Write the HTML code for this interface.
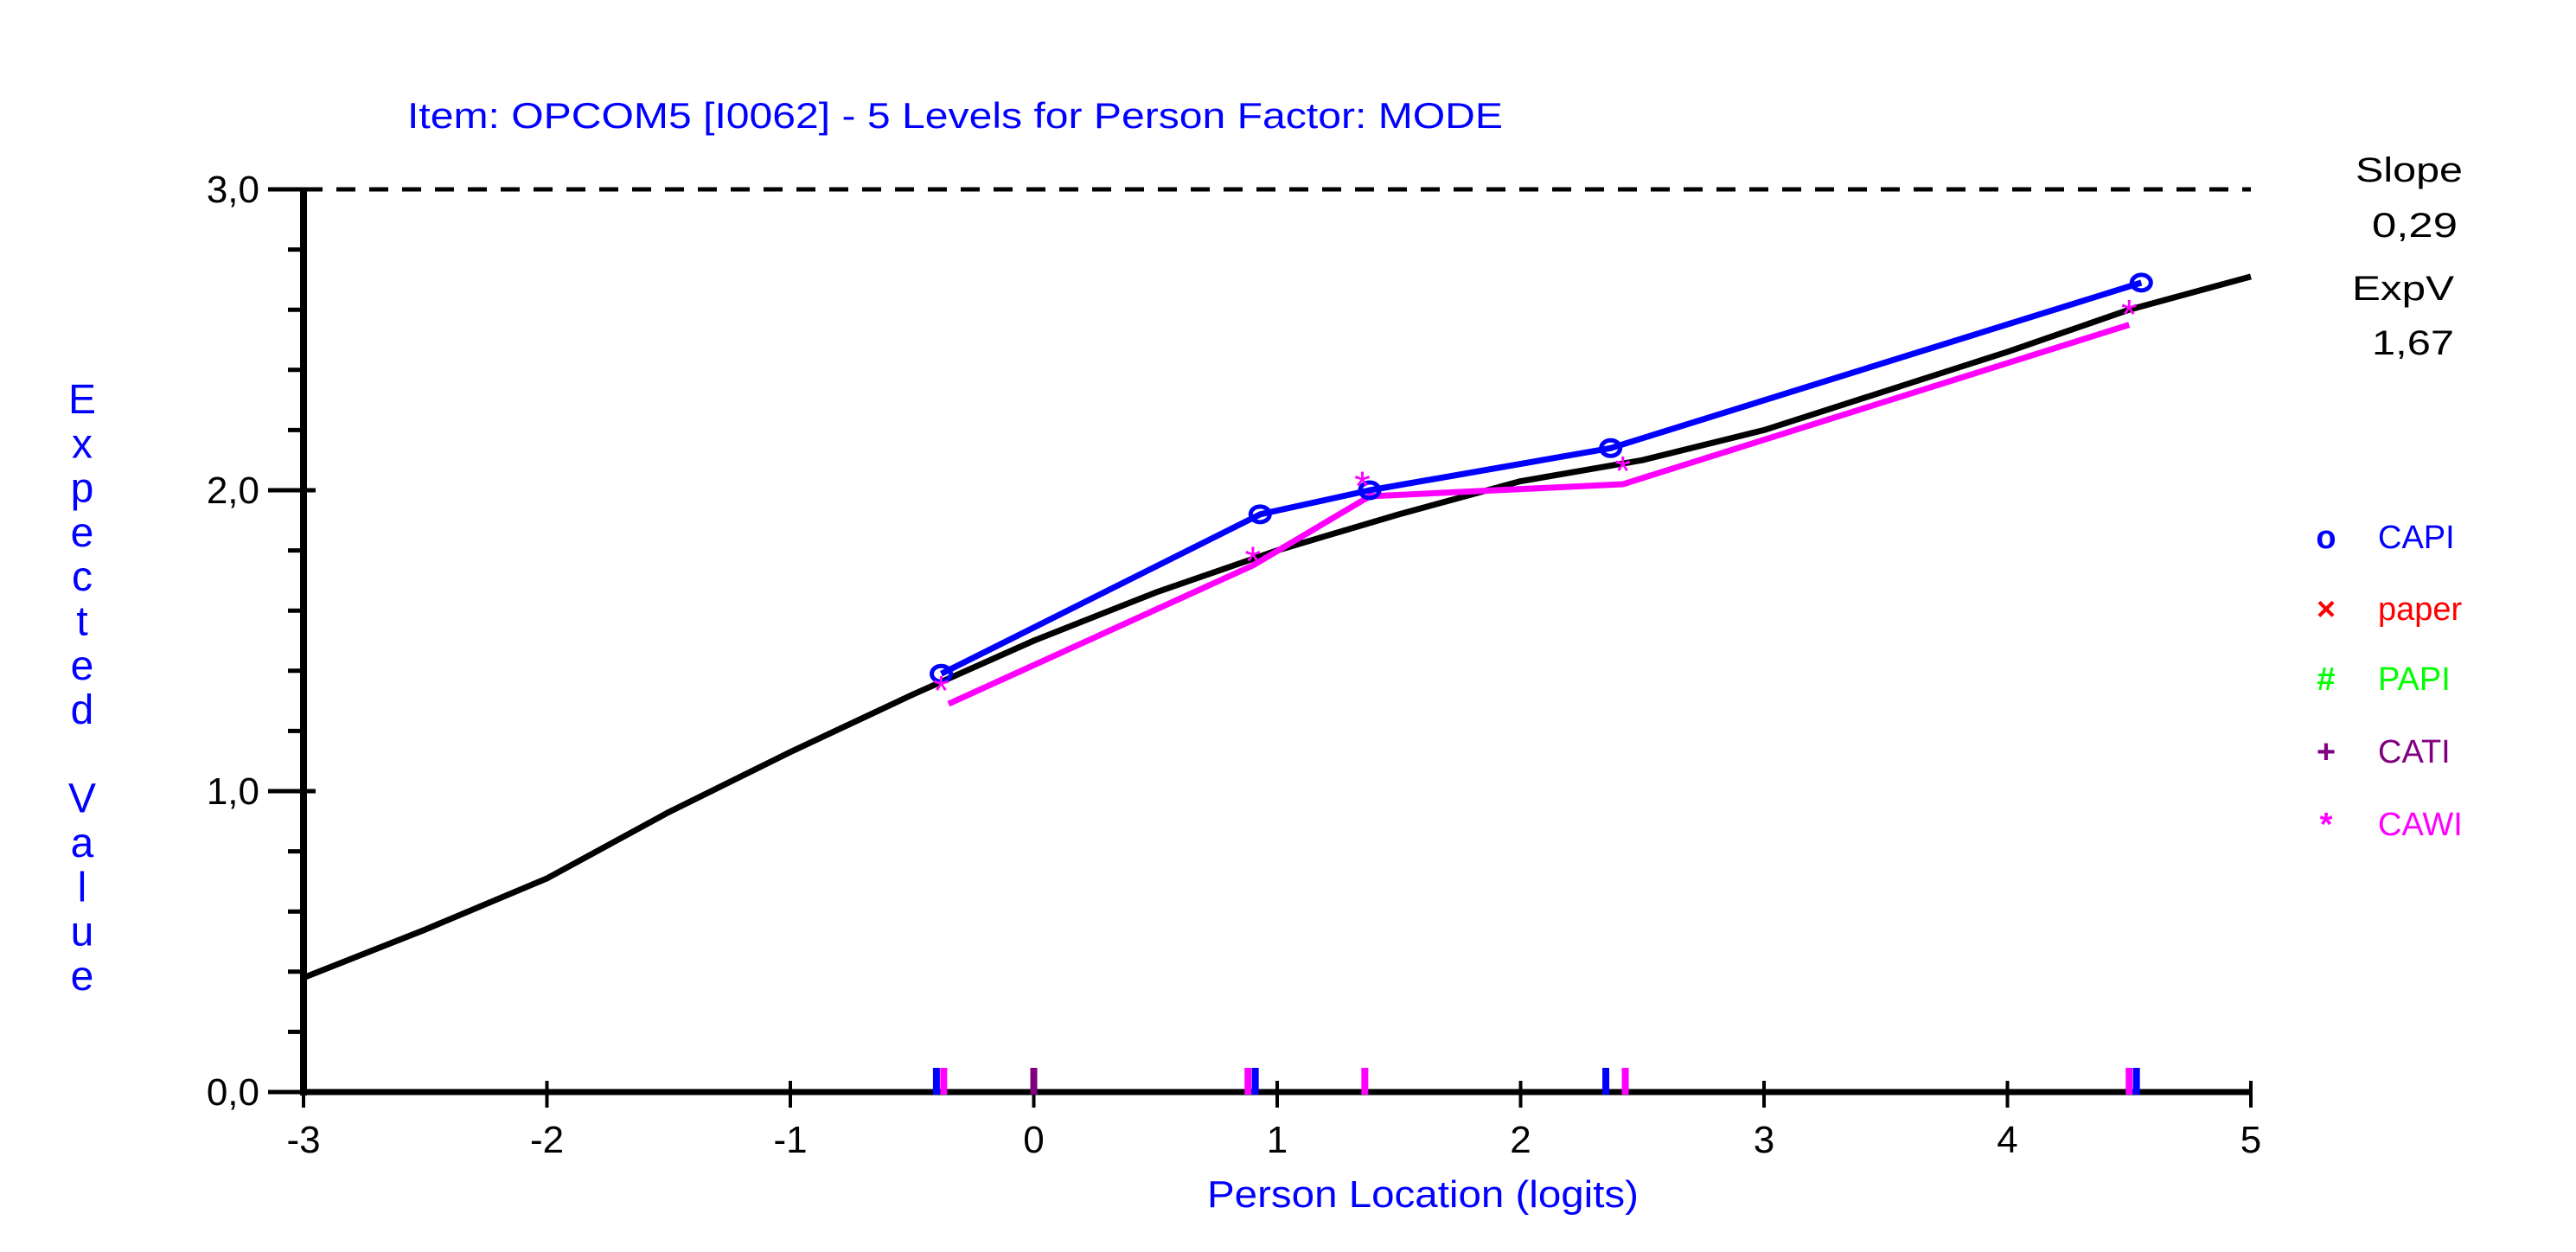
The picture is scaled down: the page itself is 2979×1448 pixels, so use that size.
<!DOCTYPE html>
<html><head><meta charset="utf-8"><style>
html,body{margin:0;padding:0;background:#fff;}
svg{display:block;}
text{font-family:"Liberation Sans",sans-serif;}
</style></head><body>
<svg id="chart" width="2979" height="1448" viewBox="0 0 2979 1448" xmlns="http://www.w3.org/2000/svg">
<text x="471" y="148" font-size="42" fill="#0000ff" textLength="1267" lengthAdjust="spacingAndGlyphs">Item: OPCOM5 [I0062] - 5 Levels for Person Factor: MODE</text>
<g id="axes"></g>
<g id="series"></g>
<g id="rug"></g>
<text x="1396" y="1396" font-size="44" fill="#0000ff" textLength="499" lengthAdjust="spacingAndGlyphs">Person Location (logits)</text>
<g id="ytitle" fill="#0000ff" font-size="48" text-anchor="middle"></g>
<g font-size="40" fill="#000">
<text x="2724" y="210" textLength="124" lengthAdjust="spacingAndGlyphs">Slope</text>
<text x="2743" y="274" textLength="99" lengthAdjust="spacingAndGlyphs">0,29</text>
<text x="2720" y="347" textLength="118" lengthAdjust="spacingAndGlyphs">ExpV</text>
<text x="2743" y="410" textLength="95" lengthAdjust="spacingAndGlyphs">1,67</text>
</g>
<g id="legend" font-size="38"></g>
</svg>
<script>
const xTicks = [-3,-2,-1,0,1,2,3,4,5];
const yTicks = [0,1,2,3];
const yTickLabels = ["0,0","1,0","2,0","3,0"];
const curveX = [-3,-2.5,-2,-1.5,-1,-0.5,0,0.5,1,1.5,2,2.5,3,3.5,4,4.5,5];
const curveY = [0.38,0.54,0.71,0.93,1.13,1.32,1.5,1.66,1.8,1.92,2.03,2.1,2.2,2.33,2.46,2.6,2.71];
const capiX = [-0.38,0.93,1.38,2.37,4.55];
const capiY = [1.39,1.92,2.0,2.14,2.69];
const cawiLineX = [-0.35,0.9,1.38,2.42,4.5];
const cawiLineY = [1.29,1.75,1.98,2.02,2.55];
const cawiMarkX = [-0.38,0.9,1.35,2.42,4.5];
const cawiMarkY = [1.35,1.78,2.03,2.08,2.6];
const rugCapi = [-0.40,0.91,2.35,4.53];
const rugCawi = [-0.37,0.88,1.36,2.43,4.50];
const rugCati = [0.0];
const legendNames = ["CAPI","paper","PAPI","CATI","CAWI"];
const legendSymbols = ["o","×","#","+","*"];
const legendColors = ["#0000ff","#ff0000","#00ff00","#800080","#ff00ff"];

const NS="http://www.w3.org/2000/svg";
const X0=351,X1=2603,Y0=1263,Y1=219;
const sx=v=>X0+(v+3)*(X1-X0)/8;
const sy=v=>Y0-v*(Y0-Y1)/3;
function mk(tag,parent,attrs){const e=document.createElementNS(NS,tag);for(const k in attrs)e.setAttribute(k,attrs[k]);parent.appendChild(e);return e;}
const axes=document.getElementById('axes');
let dl=mk('line',axes,{x1:X0,y1:Y1,x2:X1,y2:Y1,stroke:'#000','stroke-width':5,'stroke-dasharray':'22 16'});


let ya=mk('line',axes,{x1:X0,y1:Y1,x2:X0,y2:Y0+4,stroke:'#000','stroke-width':8});


let xa=mk('line',axes,{x1:X0,y1:Y0,x2:X1,y2:Y0,stroke:'#000','stroke-width':7});


for(let i=0;i<=15;i++){const v=i*0.2;const y=sy(v);const major=(i%5===0);
  const t=mk('line',axes,{x1:major?310:333,y1:y,x2:major?365:X0,y2:y,stroke:'#000','stroke-width':5});
  
  }
yTicks.forEach((v,i)=>{const t=mk('text',axes,{x:300,y:sy(v)+15,'font-size':44,'text-anchor':'end',fill:'#000'});t.textContent=yTickLabels[i];
  
  });
xTicks.forEach(v=>{const x=sx(v);
  const t=mk('line',axes,{x1:x,y1:(v===-3?Y0:1250),x2:x,y2:1281,stroke:'#000','stroke-width':4});
  
  
  const l=mk('text',axes,{x:x,y:1333,'font-size':44,'text-anchor':'middle',fill:'#000'});l.textContent=String(v);
  
  });
const ser=document.getElementById('series');
function poly(xs,ys,col,name){const p=mk('polyline',ser,{points:xs.map((x,i)=>sx(x)+','+sy(ys[i])).join(' '),fill:'none',stroke:col,'stroke-width':7,'stroke-linejoin':'round'});
  
  }
poly(curveX,curveY,'#000','expected-value-curve');
poly(cawiLineX,cawiLineY,'#ff00ff','cawi-line');
poly(capiX,capiY,'#0000ff','capi-line');
capiX.forEach((x,i)=>{const c=mk('ellipse',ser,{cx:sx(x),cy:sy(capiY[i]),rx:11,ry:9,fill:'none',stroke:'#0000ff','stroke-width':5});
  
  });
cawiMarkX.forEach((x,i)=>{const t=mk('text',ser,{x:sx(x),y:sy(cawiMarkY[i])+22,'font-size':48,'text-anchor':'middle',fill:'#ff00ff'});t.textContent='*';
  
  });
const rug=document.getElementById('rug');
function rugs(arr,col,name){arr.forEach(v=>{const r=mk('rect',rug,{x:sx(v)-4,y:1235,width:8,height:31,fill:col});
  
  });}
rugs(rugCati,'#800080','cati-rug-mark');
rugs(rugCapi,'#0000ff','capi-rug-mark');
rugs(rugCawi,'#ff00ff','cawi-rug-mark');
const yt=document.getElementById('ytitle');
const letters=['E','x','p','e','c','t','e','d','','V','a','l','u','e'];
letters.forEach((ch,i)=>{if(!ch)return;const t=mk('text',yt,{x:95,y:478+i*51.3});t.textContent=ch;
  
  });
const leg=document.getElementById('legend');
const legY=[620,703,784,868,952];
legendNames.forEach((n,i)=>{
  const g=mk('g',leg,{});
  
  
  const s=mk('text',g,{x:2690,y:legY[i]+14,fill:legendColors[i],'font-weight':'bold','text-anchor':'middle'});s.textContent=legendSymbols[i];
  
  
  const l=mk('text',g,{x:2750,y:legY[i]+14,fill:legendColors[i]});l.textContent=n;
  
  
});
</script>
</body></html>
